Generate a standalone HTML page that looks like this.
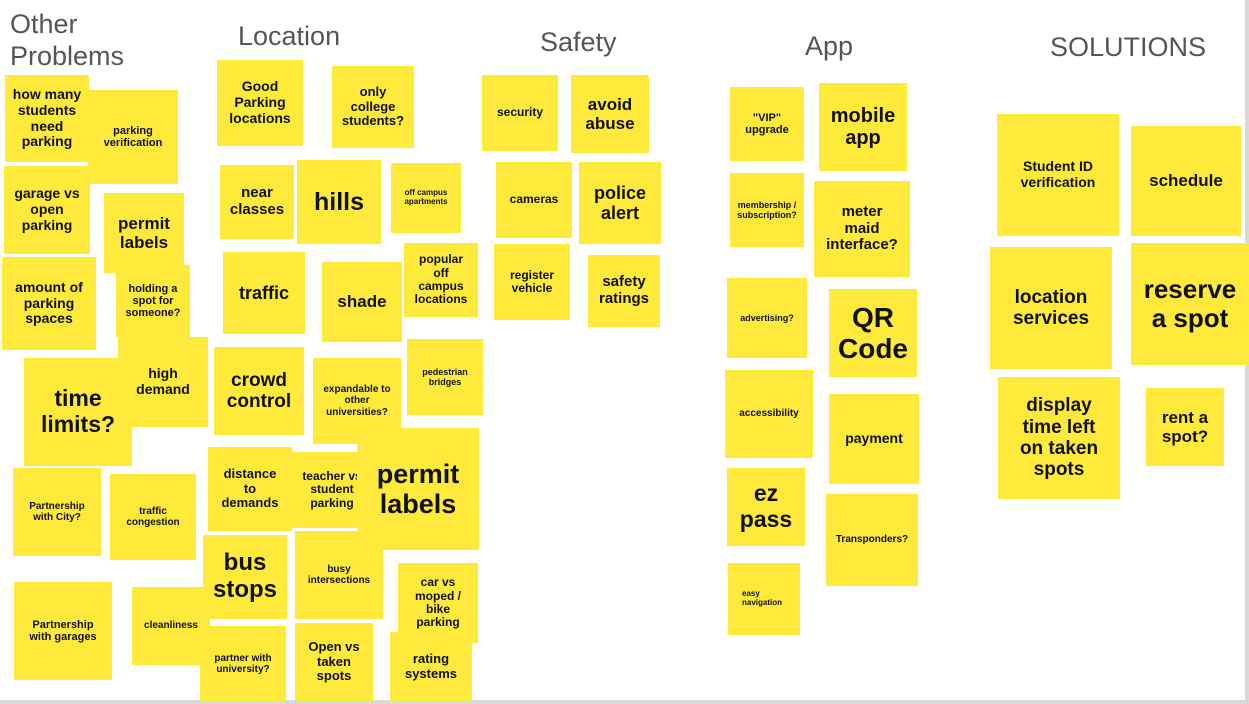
<!DOCTYPE html>
<html><head><meta charset="utf-8"><style>
html,body{margin:0;padding:0;}
body{width:1249px;height:704px;position:relative;overflow:hidden;background:#d9d9d9;font-family:"Liberation Sans",sans-serif;}
#slide{position:absolute;left:0;top:0;width:1245px;height:700px;background:#fff;}
.h{position:absolute;color:#555;font-size:27px;line-height:32px;}
.n{position:absolute;background:#ffe93b;display:flex;align-items:center;justify-content:center;text-align:center;font-weight:bold;color:#111;line-height:1.12;box-sizing:border-box;padding:2px;white-space:nowrap;}
</style></head><body><div id="slide">
<div class="h" style="left:10px;top:8px">Other<br>Problems</div>
<div class="h" style="left:238px;top:20px">Location</div>
<div class="h" style="left:540px;top:26px">Safety</div>
<div class="h" style="left:805px;top:30px">App</div>
<div class="h" style="left:1050px;top:31px">SOLUTIONS</div>

<div class="n" style="left:88px;top:90px;width:90px;height:94px;font-size:11px">parking<br>verification</div>
<div class="n" style="left:5px;top:75px;width:84px;height:87px;font-size:14px">how many<br>students<br>need<br>parking</div>
<div class="n" style="left:4px;top:166px;width:86px;height:88px;font-size:14px">garage vs<br>open<br>parking</div>
<div class="n" style="left:104px;top:193px;width:80px;height:80px;font-size:17px">permit<br>labels</div>
<div class="n" style="left:2px;top:257px;width:94px;height:93px;font-size:14px">amount of<br>parking<br>spaces</div>
<div class="n" style="left:116px;top:265px;width:74px;height:72px;font-size:11px">holding a<br>spot for<br>someone?</div>
<div class="n" style="left:118px;top:337px;width:90px;height:90px;font-size:14px">high<br>demand</div>
<div class="n" style="left:24px;top:358px;width:108px;height:108px;font-size:23px">time<br>limits?</div>
<div class="n" style="left:13px;top:468px;width:88px;height:88px;font-size:10px">Partnership<br>with City?</div>
<div class="n" style="left:110px;top:474px;width:86px;height:86px;font-size:10px">traffic<br>congestion</div>
<div class="n" style="left:14px;top:582px;width:98px;height:98px;font-size:11px">Partnership<br>with garages</div>
<div class="n" style="left:132px;top:587px;width:78px;height:78px;font-size:10px">cleanliness</div>

<div class="n" style="left:217px;top:60px;width:86px;height:86px;font-size:14px">Good<br>Parking<br>locations</div>
<div class="n" style="left:332px;top:66px;width:82px;height:82px;font-size:13px">only<br>college<br>students?</div>
<div class="n" style="left:220px;top:165px;width:74px;height:74px;font-size:15px">near<br>classes</div>
<div class="n" style="left:297px;top:160px;width:84px;height:84px;font-size:25px">hills</div>
<div class="n" style="left:391px;top:163px;width:70px;height:70px;font-size:8px">off campus<br>apartments</div>
<div class="n" style="left:223px;top:252px;width:82px;height:82px;font-size:18px">traffic</div>
<div class="n" style="left:322px;top:262px;width:80px;height:80px;font-size:17px">shade</div>
<div class="n" style="left:404px;top:243px;width:74px;height:74px;font-size:12px">popular<br>off<br>campus<br>locations</div>
<div class="n" style="left:214px;top:347px;width:90px;height:88px;font-size:19px">crowd<br>control</div>
<div class="n" style="left:313px;top:358px;width:88px;height:86px;font-size:10px">expandable to<br>other<br>universities?</div>
<div class="n" style="left:407px;top:339px;width:76px;height:76px;font-size:9px">pedestrian<br>bridges</div>
<div class="n" style="left:208px;top:447px;width:84px;height:84px;font-size:13px">distance<br>to<br>demands</div>
<div class="n" style="left:292px;top:452px;width:80px;height:76px;font-size:12px">teacher vs<br>student<br>parking</div>
<div class="n" style="left:357px;top:428px;width:122px;height:122px;font-size:27px">permit<br>labels</div>
<div class="n" style="left:203px;top:535px;width:84px;height:84px;font-size:24px">bus<br>stops</div>
<div class="n" style="left:295px;top:531px;width:88px;height:88px;font-size:10px">busy<br>intersections</div>
<div class="n" style="left:398px;top:563px;width:80px;height:80px;font-size:12px">car vs<br>moped /<br>bike<br>parking</div>
<div class="n" style="left:200px;top:626px;width:86px;height:76px;font-size:10px">partner with<br>university?</div>
<div class="n" style="left:295px;top:623px;width:78px;height:78px;font-size:13px">Open vs<br>taken<br>spots</div>
<div class="n" style="left:390px;top:632px;width:82px;height:70px;font-size:13px">rating<br>systems</div>

<div class="n" style="left:482px;top:75px;width:76px;height:76px;font-size:12px">security</div>
<div class="n" style="left:571px;top:75px;width:78px;height:78px;font-size:17px">avoid<br>abuse</div>
<div class="n" style="left:496px;top:162px;width:76px;height:76px;font-size:12px">cameras</div>
<div class="n" style="left:579px;top:162px;width:82px;height:82px;font-size:18px">police<br>alert</div>
<div class="n" style="left:494px;top:244px;width:76px;height:76px;font-size:12px">register<br>vehicle</div>
<div class="n" style="left:588px;top:255px;width:72px;height:72px;font-size:15px">safety<br>ratings</div>

<div class="n" style="left:730px;top:87px;width:74px;height:74px;font-size:11px">"VIP"<br>upgrade</div>
<div class="n" style="left:819px;top:83px;width:88px;height:88px;font-size:20px">mobile<br>app</div>
<div class="n" style="left:730px;top:173px;width:74px;height:74px;font-size:9px">membership /<br>subscription?</div>
<div class="n" style="left:814px;top:181px;width:96px;height:96px;font-size:15px">meter<br>maid<br>interface?</div>
<div class="n" style="left:727px;top:278px;width:80px;height:80px;font-size:9px">advertising?</div>
<div class="n" style="left:829px;top:289px;width:88px;height:88px;font-size:28px">QR<br>Code</div>
<div class="n" style="left:725px;top:370px;width:88px;height:88px;font-size:10px">accessibility</div>
<div class="n" style="left:829px;top:394px;width:90px;height:90px;font-size:14px">payment</div>
<div class="n" style="left:727px;top:468px;width:78px;height:78px;font-size:23px">ez<br>pass</div>
<div class="n" style="left:826px;top:494px;width:92px;height:92px;font-size:10px">Transponders?</div>
<div class="n" style="left:728px;top:563px;width:72px;height:72px;font-size:8px;justify-content:flex-start;text-align:left;padding-left:14px">easy<br>navigation</div>

<div class="n" style="left:997px;top:114px;width:122px;height:122px;font-size:14px">Student ID<br>verification</div>
<div class="n" style="left:1131px;top:126px;width:110px;height:110px;font-size:17px">schedule</div>
<div class="n" style="left:990px;top:247px;width:122px;height:122px;font-size:19px">location<br>services</div>
<div class="n" style="left:1131px;top:243px;width:118px;height:122px;font-size:26px">reserve<br>a spot</div>
<div class="n" style="left:998px;top:377px;width:122px;height:122px;font-size:19px">display<br>time left<br>on taken<br>spots</div>
<div class="n" style="left:1146px;top:388px;width:78px;height:78px;font-size:17px">rent a<br>spot?</div>
</div></body></html>
